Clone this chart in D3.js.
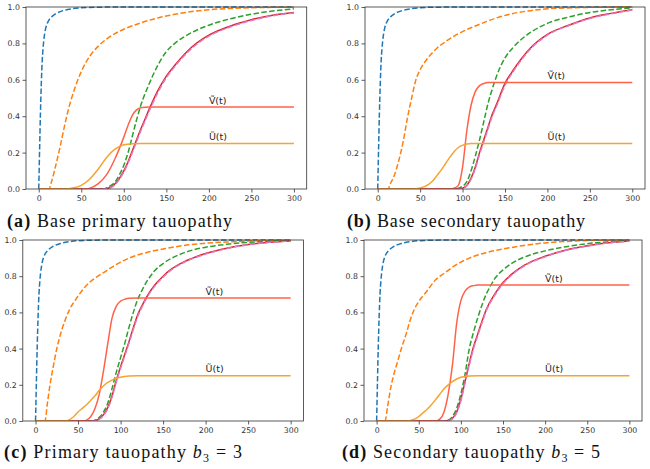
<!DOCTYPE html>
<html><head><meta charset="utf-8">
<script src="https://cdn.jsdelivr.net/npm/d3@7"></script>
<style>
html,body{margin:0;padding:0;background:#fff;}
svg{display:block;}
</style></head>
<body>
<svg id="chart" width="650" height="469"></svg>
<script>
// ---------- data ----------
const tickX = [0, 50, 100, 150, 200, 250, 300];
const tickY = [0, 0.2, 0.4, 0.6, 0.8, 1.0];
const labelV = "Ṽ(t)";
const labelU = "Ũ(t)";
const labelT = 200;

// Panel (a) Base primary tauopathy
const aBlue = [[0,0],[1,0.22],[2,0.42],[3,0.58],[4,0.7],[5,0.77],[6,0.82],[8,0.88],[10,0.91],[15,0.945],[20,0.963],[30,0.982],[40,0.991],[50,0.996],[70,0.999],[100,1],[300,1]];
const aOrange = [[0,0],[12,0],[15,0.04],[20,0.13],[25,0.23],[30,0.34],[35,0.44],[40,0.52],[50,0.645],[60,0.73],[70,0.785],[80,0.825],[90,0.855],[100,0.878],[120,0.913],[140,0.94],[160,0.96],[180,0.975],[200,0.985],[225,0.992],[250,0.996],[300,0.999]];
const aGreen = [[0,0],[75,0],[85,0.02],[90,0.04],[95,0.08],[100,0.13],[105,0.2],[110,0.29],[115,0.38],[120,0.46],[130,0.58],[140,0.68],[150,0.755],[160,0.8],[180,0.86],[200,0.9],[225,0.935],[250,0.96],[275,0.978],[300,0.99]];
const aRed = [[0,0],[75,0],[85,0.01],[90,0.03],[95,0.06],[100,0.1],[105,0.15],[110,0.21],[115,0.27],[120,0.33],[125,0.385],[130,0.44],[140,0.54],[150,0.62],[160,0.68],[180,0.78],[200,0.845],[225,0.895],[250,0.93],[275,0.955],[300,0.97]];
const aPink = [[0,0],[75,0],[85,0.008],[90,0.025],[95,0.055],[100,0.093],[105,0.142],[110,0.2],[115,0.26],[120,0.32],[125,0.375],[130,0.43],[140,0.53],[150,0.612],[160,0.673],[180,0.773],[200,0.84],[225,0.89],[250,0.926],[275,0.952],[300,0.967]];
const aV = [[0,0],[55,0],[60,0.005],[70,0.03],[80,0.08],[90,0.17],[100,0.285],[105,0.35],[110,0.405],[115,0.435],[120,0.447],[130,0.45],[300,0.45]];
const aU = [[0,0],[30,0],[40,0.005],[50,0.02],[60,0.055],[70,0.11],[80,0.175],[90,0.22],[100,0.243],[110,0.249],[120,0.25],[300,0.25]];

// Panel (b) Base secondary tauopathy
const bBlue = [[0,0],[1,0.22],[2,0.42],[3,0.58],[4,0.7],[5,0.77],[6,0.82],[8,0.88],[10,0.91],[15,0.945],[20,0.963],[30,0.982],[40,0.991],[50,0.996],[70,0.999],[100,1],[300,1]];
const bOrange = [[0,0],[12,0],[15,0.03],[20,0.08],[25,0.16],[30,0.26],[35,0.39],[40,0.5],[45,0.6],[50,0.655],[60,0.725],[70,0.775],[80,0.81],[90,0.84],[100,0.865],[120,0.905],[140,0.94],[160,0.965],[180,0.98],[200,0.99],[250,0.998],[300,1]];
const bGreen = [[0,0],[90,0],[100,0.015],[105,0.04],[110,0.1],[115,0.18],[120,0.27],[125,0.37],[130,0.47],[135,0.55],[140,0.62],[150,0.72],[160,0.78],[180,0.86],[200,0.91],[225,0.945],[250,0.97],[275,0.985],[300,0.995]];
const bRed = [[0,0],[95,0],[100,0.005],[105,0.02],[110,0.06],[115,0.12],[120,0.2],[125,0.27],[130,0.34],[135,0.41],[140,0.465],[150,0.58],[160,0.655],[170,0.72],[180,0.775],[200,0.85],[225,0.9],[250,0.94],[275,0.965],[300,0.985]];
const bPink = [[0,0],[95,0],[100,0.004],[105,0.017],[110,0.054],[115,0.112],[120,0.19],[125,0.26],[130,0.33],[135,0.4],[140,0.455],[150,0.57],[160,0.648],[170,0.713],[180,0.769],[200,0.846],[225,0.897],[250,0.937],[275,0.963],[300,0.983]];
const bV = [[0,0],[85,0],[90,0.004],[95,0.02],[100,0.12],[105,0.32],[110,0.46],[115,0.535],[120,0.568],[125,0.58],[130,0.585],[300,0.585]];
const bU = [[0,0],[40,0],[50,0.005],[60,0.025],[65,0.045],[70,0.075],[75,0.105],[80,0.14],[85,0.175],[90,0.205],[95,0.228],[100,0.24],[105,0.247],[110,0.25],[300,0.25]];

// Panel (c) Primary tauopathy b3 = 3
const cBlue = [[0,0],[1,0.22],[2,0.42],[3,0.58],[4,0.7],[5,0.77],[6,0.82],[8,0.88],[10,0.91],[15,0.945],[20,0.963],[30,0.982],[40,0.991],[50,0.996],[70,0.999],[100,1],[300,1]];
const cOrange = [[0,0],[11,0],[14,0.1],[17,0.2],[20,0.28],[25,0.4],[30,0.49],[35,0.56],[40,0.615],[50,0.69],[60,0.75],[70,0.79],[80,0.82],[90,0.85],[100,0.878],[110,0.9],[130,0.93],[150,0.95],[175,0.97],[200,0.982],[230,0.99],[260,0.996],[300,0.999]];
const cGreen = [[0,0],[65,0],[70,0.005],[75,0.02],[80,0.05],[85,0.1],[90,0.18],[95,0.27],[100,0.35],[105,0.43],[110,0.52],[115,0.6],[120,0.67],[125,0.72],[130,0.765],[135,0.8],[140,0.83],[150,0.87],[175,0.93],[200,0.96],[225,0.976],[250,0.987],[275,0.993],[300,0.997]];
const cRed = [[0,0],[65,0],[70,0.003],[75,0.012],[80,0.035],[85,0.075],[90,0.14],[95,0.225],[100,0.3],[105,0.37],[110,0.44],[115,0.515],[120,0.585],[125,0.635],[130,0.68],[140,0.75],[150,0.8],[160,0.84],[175,0.88],[200,0.925],[225,0.955],[250,0.975],[275,0.988],[300,0.995]];
const cPink = [[0,0],[65,0],[70,0.002],[75,0.01],[80,0.031],[85,0.069],[90,0.132],[95,0.216],[100,0.291],[105,0.361],[110,0.431],[115,0.506],[120,0.576],[125,0.628],[130,0.673],[140,0.744],[150,0.795],[160,0.836],[175,0.877],[200,0.922],[225,0.953],[250,0.974],[275,0.987],[300,0.994]];
const cV = [[0,0],[55,0],[60,0.005],[65,0.025],[70,0.07],[75,0.15],[80,0.28],[85,0.43],[90,0.57],[95,0.635],[100,0.662],[105,0.673],[110,0.678],[120,0.68],[300,0.68]];
const cU = [[0,0],[35,0],[40,0.008],[45,0.025],[50,0.05],[55,0.07],[60,0.09],[65,0.115],[70,0.14],[75,0.17],[80,0.195],[85,0.213],[90,0.226],[95,0.236],[100,0.242],[110,0.248],[120,0.25],[300,0.25]];

// Panel (d) Secondary tauopathy b3 = 5
const dBlue = [[0,0],[1,0.22],[2,0.42],[3,0.58],[4,0.7],[5,0.77],[6,0.82],[8,0.88],[10,0.91],[15,0.945],[20,0.963],[30,0.982],[40,0.991],[50,0.996],[70,0.999],[100,1],[300,1]];
const dOrange = [[0,0],[10,0],[13,0.08],[17,0.19],[20,0.25],[25,0.33],[30,0.41],[35,0.48],[40,0.56],[45,0.62],[50,0.66],[60,0.72],[70,0.78],[80,0.815],[90,0.85],[100,0.878],[110,0.9],[130,0.93],[150,0.95],[175,0.97],[200,0.984],[230,0.993],[260,0.998],[300,1]];
const dGreen = [[0,0],[80,0],[85,0.005],[90,0.025],[95,0.07],[100,0.15],[105,0.26],[110,0.4],[115,0.49],[120,0.57],[125,0.64],[130,0.7],[135,0.745],[140,0.785],[150,0.835],[160,0.87],[175,0.905],[200,0.94],[225,0.963],[250,0.98],[275,0.99],[300,0.997]];
const dRed = [[0,0],[80,0],[85,0.003],[90,0.015],[95,0.05],[100,0.12],[105,0.22],[110,0.32],[115,0.41],[120,0.48],[125,0.55],[130,0.615],[140,0.7],[150,0.765],[160,0.81],[175,0.86],[200,0.91],[225,0.945],[250,0.968],[275,0.985],[300,0.995]];
const dPink = [[0,0],[80,0],[85,0.002],[90,0.012],[95,0.045],[100,0.112],[105,0.21],[110,0.31],[115,0.4],[120,0.471],[125,0.541],[130,0.607],[140,0.693],[150,0.759],[160,0.805],[175,0.856],[200,0.907],[225,0.943],[250,0.966],[275,0.984],[300,0.994]];
const dV = [[0,0],[70,0],[75,0.01],[80,0.05],[85,0.15],[90,0.31],[95,0.54],[100,0.665],[105,0.718],[110,0.74],[115,0.748],[120,0.752],[300,0.752]];
const dU = [[0,0],[35,0],[40,0.003],[45,0.01],[50,0.025],[55,0.045],[60,0.065],[65,0.09],[70,0.118],[75,0.148],[80,0.178],[85,0.2],[90,0.218],[95,0.232],[100,0.242],[110,0.249],[120,0.25],[300,0.25]];

// ---------- styles ----------
const styles = {
  blue:   {color: "#1f77b4", dash: "5.5,2.4"},
  orange: {color: "#ff7f0e", dash: "5.5,2.4"},
  green:  {color: "#2ca02c", dash: "5.5,2.4"},
  red:    {color: "#d62728", dash: null},
  pink:   {color: "#e377c2", dash: "5.5,2.4"},
  V:      {color: "#ff6347", dash: null},
  U:      {color: "#f5a431", dash: null}
};

const panels = [
  {key:"a", l:26, r:306.7, t:7, b:189, series:{blue:aBlue, orange:aOrange, green:aGreen, red:aRed, pink:aPink, V:aV, U:aU},
   cap:{x:7, y:227, w:225, parts:[["(a)","bold"],[" Base primary tauopathy",""]]}},
  {key:"b", l:365, r:645, t:7, b:189, series:{blue:bBlue, orange:bOrange, green:bGreen, red:bRed, pink:bPink, V:bV, U:bU},
   cap:{x:347, y:227, w:238, parts:[["(b)","bold"],[" Base secondary tauopathy",""]]}},
  {key:"c", l:22.8, r:303.4, t:240, b:421, series:{blue:cBlue, orange:cOrange, green:cGreen, red:cRed, pink:cPink, V:cV, U:cU},
   cap:{x:4, y:458, w:238, parts:[["(c)","bold"],[" Primary tauopathy ",""],["b","italic"],["3","sub"],[" = 3","up"]]}},
  {key:"d", l:364, r:642, t:240, b:421, series:{blue:dBlue, orange:dOrange, green:dGreen, red:dRed, pink:dPink, V:dV, U:dU},
   cap:{x:342, y:458, w:258, parts:[["(d)","bold"],[" Secondary tauopathy ",""],["b","italic"],["3","sub"],[" = 5","up"]]}}
];

const svg = d3.select("#chart");
const order = ["blue","orange","green","red","pink","V","U"];

panels.forEach(p => {
  const x = d3.scaleLinear().domain([-15, 315]).range([p.l, p.r]);
  const y = d3.scaleLinear().domain([0, 1]).range([p.b, p.t]);
  const g = svg.append("g");

  g.append("clipPath").attr("id", "clip-" + p.key)
    .append("rect").attr("x", p.l).attr("y", p.t - 1).attr("width", p.r - p.l).attr("height", p.b - p.t + 1);

  const line = d3.line().x(d => x(d[0])).y(d => y(d[1])).curve(d3.curveMonotoneX);
  const plot = g.append("g").attr("clip-path", "url(#clip-" + p.key + ")");
  order.forEach(k => {
    const st = styles[k];
    plot.append("path").datum(p.series[k])
      .attr("d", line).attr("fill", "none")
      .attr("stroke", st.color).attr("stroke-width", 1.5)
      .attr("stroke-dasharray", st.dash);
  });

  // labels
  const vEnd = p.series.V[p.series.V.length - 1][1];
  const uEnd = p.series.U[p.series.U.length - 1][1];
  [[labelV, vEnd], [labelU, uEnd]].forEach(([txt, v]) => {
    g.append("text").attr("x", x(labelT)).attr("y", y(v + 0.018))
      .attr("font-family", "DejaVu Sans").attr("font-size", 9.5).attr("fill", "#262626")
      .text(txt);
  });

  // axes
  const ax = g.append("g").attr("transform", `translate(0,${p.b})`)
    .call(d3.axisBottom(x).tickValues(tickX).tickSize(3.5).tickPadding(2.5).tickFormat(d3.format("d")));
  const ay = g.append("g").attr("transform", `translate(${p.l},0)`)
    .call(d3.axisLeft(y).tickValues(tickY).tickSize(3.5).tickPadding(2.5).tickFormat(d3.format(".1f")));
  [ax, ay].forEach(a => {
    a.select(".domain").remove();
    a.selectAll("line").attr("stroke", "#333").attr("stroke-width", 0.8);
    a.selectAll("text").attr("font-family", "DejaVu Sans").attr("font-size", 7.8).attr("fill", "#333");
  });

  g.append("rect").attr("x", p.l).attr("y", p.t).attr("width", p.r - p.l).attr("height", p.b - p.t)
    .attr("fill", "none").attr("stroke", "#333").attr("stroke-width", 0.8);

  // caption
  const cap = g.append("text").attr("x", p.cap.x).attr("y", p.cap.y)
    .attr("font-family", "Liberation Serif").attr("font-size", 18).attr("fill", "#111");
  p.cap.parts.forEach(([s, kind]) => {
    const ts = cap.append("tspan").text(s);
    if (kind === "bold") ts.attr("font-weight", "bold");
    if (kind === "italic") ts.attr("font-style", "italic");
    if (kind === "sub") ts.attr("font-size", 12).attr("dy", 3.5);
    if (kind === "up") ts.attr("dy", -3.5);
  });
  cap.attr("textLength", p.cap.w).attr("lengthAdjust", "spacing");
});
</script>
</body></html>
